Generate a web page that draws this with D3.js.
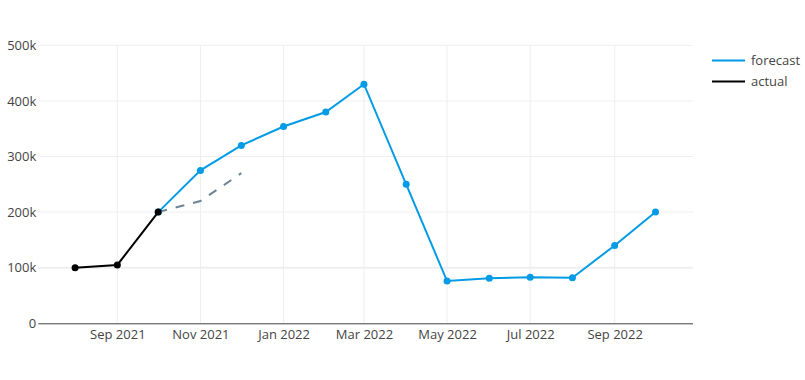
<!DOCTYPE html>
<html><head><meta charset="utf-8">
<script src="https://cdn.jsdelivr.net/npm/d3@7"></script>
<style>html,body{margin:0;padding:0;background:#fff;}svg{display:block;font-family:"Open Sans",sans-serif;}</style>
</head><body>
<script>
const actualDates = ["2021-08-01","2021-09-01","2021-10-01"];
const actualValues = [100000,105000,200000];
const forecastDates = ["2021-10-01","2021-11-01","2021-12-01","2022-01-01","2022-02-01","2022-03-01","2022-04-01","2022-05-01","2022-06-01","2022-07-01","2022-08-01","2022-09-01","2022-10-01"];
const forecastValues = [200000,275000,320000,354000,380000,430000,250000,76000,81000,83000,82000,140000,200000];
const altDates = ["2021-10-01","2021-11-01","2021-12-01"];
const altValues = [200000,220000,270000];
const xTicks = ["2021-09-01","2021-11-01","2022-01-01","2022-03-01","2022-05-01","2022-07-01","2022-09-01"];
const yTicks = [0,100000,200000,300000,400000,500000];
const legendLabels = ["forecast","actual"];

const W=805,H=380;
const parse=d3.utcParse("%Y-%m-%d");
const svg=d3.select("body").append("svg").attr("width",W).attr("height",H);
const L=38.3,R=693,T=45.3,B=323.3;
const x=d3.scaleUtc().domain([new Date(Date.UTC(2021,6,5)),new Date(Date.UTC(2022,9,28,12))]).range([L,R]);
const y=d3.scaleLinear().domain([0,500000]).range([B,T]);
const fmtY=v=>v===0?"0":(v/1000)+"k";
const fmtX=d3.utcFormat("%b %Y");
const FS=13;

// grid
const g=svg.append("g");
g.selectAll(".vg").data(xTicks).join("line")
 .attr("x1",d=>x(parse(d))).attr("x2",d=>x(parse(d))).attr("y1",T).attr("y2",B)
 .attr("stroke","#eee").attr("stroke-width",1);
g.selectAll(".hg").data(yTicks.filter(v=>v>0)).join("line")
 .attr("x1",L).attr("x2",R).attr("y1",d=>y(d)).attr("y2",d=>y(d))
 .attr("stroke","#eee").attr("stroke-width",d=>d===100000?2:1);

// axes
const xa=svg.append("g").attr("transform",`translate(0,${B})`)
 .call(d3.axisBottom(x).tickValues(xTicks.map(parse)).tickFormat(fmtX).tickSize(0).tickPadding(6));
xa.select(".domain").attr("stroke","#444").attr("d",`M${L},0.5H${R}`);
xa.selectAll("text").attr("fill","#444").attr("font-size",FS).attr("font-family","Open Sans");
const ya=svg.append("g").attr("transform",`translate(${L},0)`)
 .call(d3.axisLeft(y).tickValues(yTicks).tickFormat(fmtY).tickSize(0).tickPadding(2));
ya.select(".domain").remove();
ya.selectAll("text").attr("fill","#444").attr("font-size",FS).attr("font-family","Open Sans");

const line=d3.line().x(d=>x(d[0])).y(d=>y(d[1]));
const zip=(ds,vs)=>ds.map((d,i)=>[parse(d),vs[i]]);
const blue="#039be5";

svg.append("path").datum(zip(altDates,altValues)).attr("d",line)
 .attr("fill","none").attr("stroke","#6c8596").attr("stroke-width",2).attr("stroke-dasharray","9,9");

const fc=zip(forecastDates,forecastValues);
svg.append("path").datum(fc).attr("d",line).attr("fill","none").attr("stroke",blue).attr("stroke-width",2);
svg.append("g").selectAll("circle").data(fc).join("circle")
 .attr("cx",d=>x(d[0])).attr("cy",d=>y(d[1])).attr("r",3.5).attr("fill",blue);

const ac=zip(actualDates,actualValues);
svg.append("path").datum(ac).attr("d",line).attr("fill","none").attr("stroke","#000").attr("stroke-width",2);
svg.append("g").selectAll("circle").data(ac).join("circle")
 .attr("cx",d=>x(d[0])).attr("cy",d=>y(d[1])).attr("r",3.5).attr("fill","#000");

// legend
const lg=svg.append("g");
const lcol=[blue,"#000"];
legendLabels.forEach((t,i)=>{
  const yy=60.5+i*21;
  lg.append("line").attr("x1",712).attr("x2",745).attr("y1",yy).attr("y2",yy).attr("stroke",lcol[i]).attr("stroke-width",2);
  lg.append("text").attr("x",751).attr("y",yy+4.7).text(t).attr("fill","#444").attr("font-size",FS).attr("font-family","Open Sans");
});
</script>
</body></html>
